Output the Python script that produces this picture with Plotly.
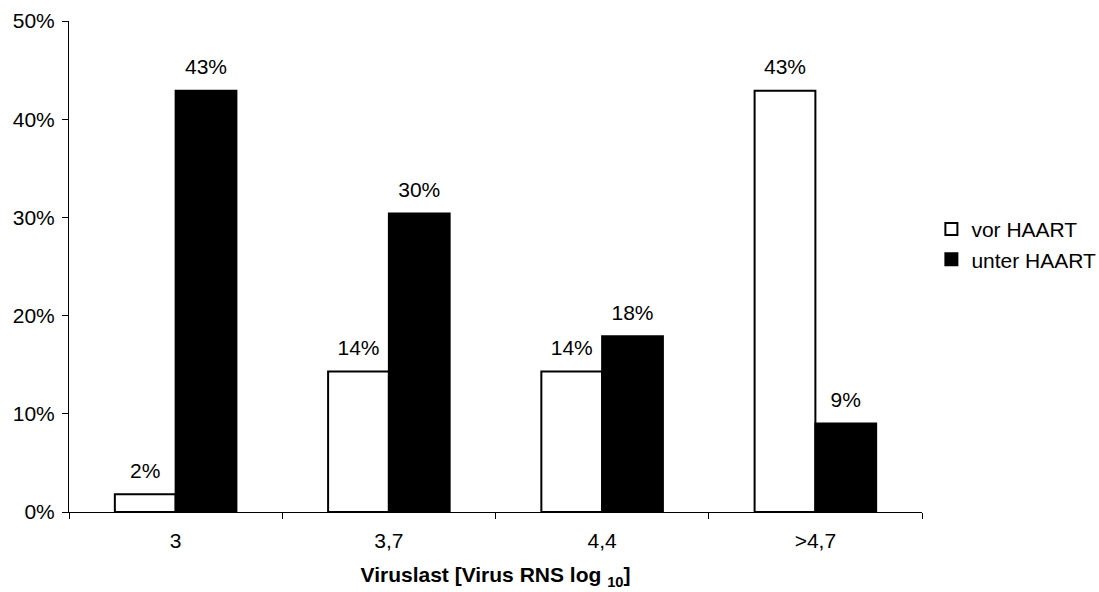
import plotly.graph_objects as go

categories = ["3", "3,7", "4,4", ">4,7"]
vor_haart = [1.8, 14.3, 14.3, 42.9]
unter_haart = [42.9, 30.4, 17.9, 9.0]
vor_labels = ["2%", "14%", "14%", "43%"]
unter_labels = ["43%", "30%", "18%", "9%"]
y_ticks = [0, 10, 20, 30, 40, 50]
y_ticklabels = ["0%", "10%", "20%", "30%", "40%", "50%"]

FONT = "Arial, Liberation Sans, sans-serif"
FS = 21
GAP = 0.43

fig = go.Figure()
fig.add_trace(go.Bar(name="vor HAART", x=categories, y=vor_haart,
                     marker=dict(color="white", line=dict(color="black", width=2)),
                     offsetgroup="a"))
fig.add_trace(go.Bar(name="unter HAART", x=categories, y=unter_haart,
                     marker=dict(color="black", line=dict(color="black", width=2)),
                     offsetgroup="b"))
fig.add_trace(go.Scatter(x=categories, y=vor_haart, text=vor_labels, mode="markers+text",
                         textposition="top center", marker=dict(size=16, opacity=0),
                         textfont=dict(size=FS, color="black", family=FONT),
                         offsetgroup="a", showlegend=False, hoverinfo="skip", cliponaxis=False))
fig.add_trace(go.Scatter(x=categories, y=unter_haart, text=unter_labels, mode="markers+text",
                         textposition="top center", marker=dict(size=16, opacity=0),
                         textfont=dict(size=FS, color="black", family=FONT),
                         offsetgroup="b", showlegend=False, hoverinfo="skip", cliponaxis=False))

fig.update_layout(
    width=1099, height=592,
    margin=dict(l=69, r=177, t=21, b=80, autoexpand=False),
    paper_bgcolor="white", plot_bgcolor="white",
    barmode="group", bargap=GAP, bargroupgap=0,
    scattermode="group", scattergap=GAP,
    font=dict(family=FONT, size=FS, color="black"),
    showlegend=True,
    legend=dict(x=1.011, y=0.545, xanchor="left", yanchor="middle",
                font=dict(size=FS, family=FONT), tracegroupgap=0,
                itemsizing="constant", itemwidth=30, bgcolor="rgba(0,0,0,0)"),
    xaxis=dict(type="category", categoryorder="array", categoryarray=categories,
               tickson="boundaries", ticks="outside", ticklen=6, tickcolor="black",
               showline=True, linecolor="black", linewidth=1, showgrid=False,
               range=[-0.5, 3.5], ticklabelstandoff=10,
               tickfont=dict(size=FS),
               title=dict(text="<b>Viruslast [Virus RNS log <sub>10</sub>]</b>",
                          font=dict(size=FS, family=FONT), standoff=16)),
    yaxis=dict(range=[0, 50], tickvals=y_ticks, ticktext=y_ticklabels,
               ticks="outside", ticklen=6, tickcolor="black", ticklabelstandoff=3,
               showline=True, linecolor="black", linewidth=1, showgrid=False,
               zeroline=False, tickfont=dict(size=FS)),
    yaxis2=dict(range=[0, 50], tickvals=y_ticks, ticks="inside", ticklen=6,
                tickcolor="black", showticklabels=False, showline=False,
                showgrid=False, zeroline=False, overlaying="y", side="left",
                anchor="x"),
    xaxis2=dict(range=[-0.5, 3.5], tickvals=[0.5, 1.5, 2.5, 3.5], ticks="inside",
                ticklen=6, tickcolor="black", showticklabels=False, showline=False,
                showgrid=False, zeroline=False, overlaying="x", side="bottom",
                anchor="y"),
)

fig.write_html("out.html")
